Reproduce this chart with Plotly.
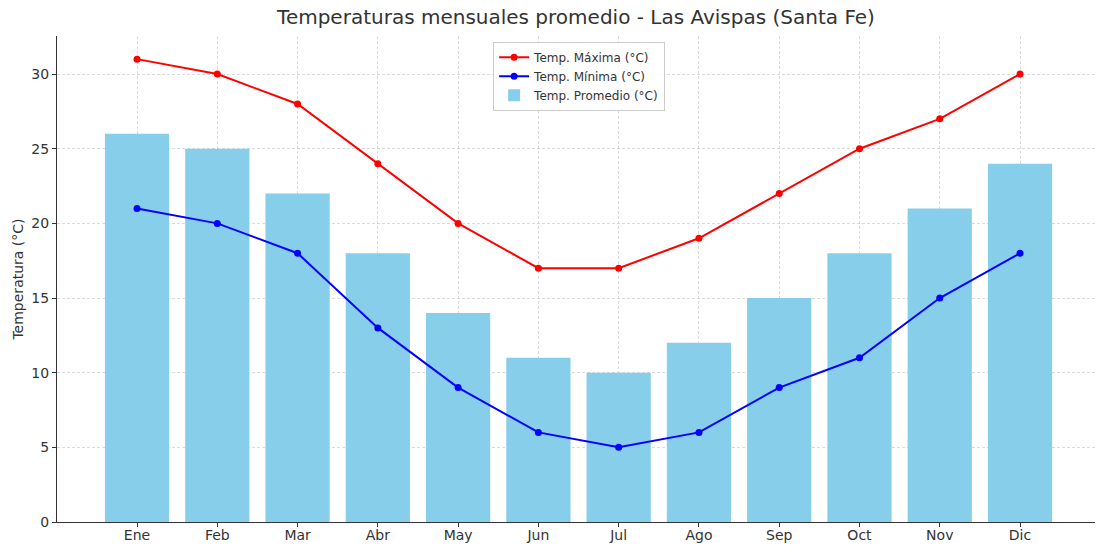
import plotly.graph_objects as go

meses = ["Ene", "Feb", "Mar", "Abr", "May", "Jun", "Jul", "Ago", "Sep", "Oct", "Nov", "Dic"]
temp_max = [31, 30, 28, 24, 20, 17, 17, 19, 22, 25, 27, 30]
temp_min = [21, 20, 18, 13, 9, 6, 5, 6, 9, 11, 15, 18]
temp_prom = [26, 25, 22, 18, 14, 11, 10, 12, 15, 18, 21, 24]

xi = list(range(len(meses)))

fig = go.Figure()
fig.add_trace(go.Bar(
    x=xi, y=temp_prom, name="Temp. Promedio (°C)",
    marker=dict(color="#87CEEB", line=dict(width=0)), width=0.8, legendrank=3,
))
fig.add_trace(go.Scatter(
    x=xi, y=temp_max, mode="lines+markers", name="Temp. Máxima (°C)",
    line=dict(color="#ff0000", width=2), marker=dict(color="#ff0000", size=7), legendrank=1,
))
fig.add_trace(go.Scatter(
    x=xi, y=temp_min, mode="lines+markers", name="Temp. Mínima (°C)",
    line=dict(color="#0000ff", width=2), marker=dict(color="#0000ff", size=7), legendrank=2,
))

grid = "rgba(190,190,190,0.55)"
fig.update_layout(
    width=1096, height=545,
    margin=dict(l=57, r=1, t=36, b=23),
    paper_bgcolor="white", plot_bgcolor="white",
    font=dict(family="DejaVu Sans", color="#333333", size=14),
    title=dict(text="Temperaturas mensuales promedio - Las Avispas (Santa Fe)",
               x=0.5, xref="paper", xanchor="center", y=0.981, yref="container", yanchor="top",
               font=dict(size=20, color="#333333")),
    showlegend=True,
    legend=dict(x=0.503, y=0.988, xanchor="center", yanchor="top",
                bgcolor="rgba(255,255,255,0.85)", bordercolor="#cccccc", borderwidth=1,
                font=dict(size=12, color="#333333"), traceorder="normal",
                tracegroupgap=0, itemwidth=30),
    bargap=0.2,
)
fig.update_xaxes(
    range=[-0.997, 11.934], tickmode="array", tickvals=xi, ticktext=meses,
    showgrid=True, gridcolor=grid, griddash="3px,2px", gridwidth=1,
    showline=True, linecolor="#333333", linewidth=1,
    ticks="outside", ticklen=4, tickcolor="#333333",
    layer="above traces", zeroline=False, automargin=False,
    ticklabelstandoff=-4,
    tickfont=dict(size=14, color="#333333"),
)
fig.update_yaxes(
    range=[0, 32.55], tickmode="array", tickvals=[0, 5, 10, 15, 20, 25, 30],
    showgrid=True, gridcolor=grid, griddash="3px,2px", gridwidth=1,
    showline=True, linecolor="#333333", linewidth=1,
    ticks="outside", ticklen=4, tickcolor="#333333",
    layer="above traces", zeroline=False, automargin=False,
    title=dict(text="Temperatura (°C)", font=dict(size=14, color="#333333"), standoff=4),
    tickfont=dict(size=14, color="#333333"),
)

fig.write_html("out.html", post_script="document.body.style.margin='0';",
               config={"displayModeBar": False})
